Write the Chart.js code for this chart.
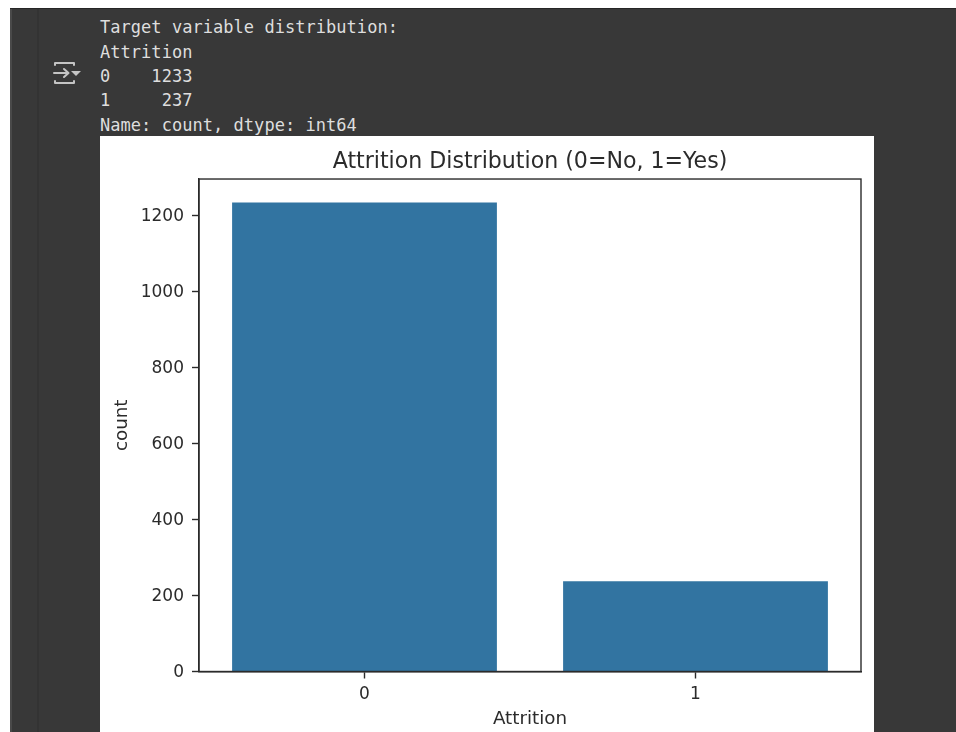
<!DOCTYPE html>
<html>
<head>
<meta charset="utf-8">
<script src="https://cdn.jsdelivr.net/npm/chart.js@4"></script>
<style>
html,body{margin:0;padding:0;background:#fff;width:956px;height:732px;overflow:hidden}
#dark{position:absolute;left:10px;top:8px;width:946px;height:724px;background:#383838;border-top:1px solid #262626;box-sizing:border-box}
#rule{position:absolute;left:37px;top:9px;width:2px;height:723px;background:#333}
#edge{position:absolute;left:10px;top:9px;width:2px;height:723px;background:#4a4a4a}
#out{position:absolute;left:100px;top:15.400px;font:17px/24.300px "DejaVu Sans Mono",monospace;letter-spacing:.04px;color:#dedede;white-space:pre;margin:0}
#icon{position:absolute;left:52px;top:60px}
#wrap{position:absolute;left:100px;top:136px;width:774px;height:596px;background:#fff}
canvas{display:block}
</style>
</head>
<body>
<div id="dark"></div><div id="edge"></div><div id="rule"></div>
<svg id="icon" width="30" height="28" viewBox="0 0 30 28" fill="none" stroke="#c4c4c4" stroke-width="2" stroke-linecap="round" stroke-linejoin="round">
<path d="M3 5V3h19v2M3 21v2h19v-2"/><path d="M2 13h14M12 9l4.500 4-4.500 4"/><path d="M19 11h10l-5 5z" fill="#c4c4c4" stroke="none"/>
</svg>
<pre id="out"></pre>
<div id="wrap"><canvas id="c" width="774" height="596"></canvas></div>
<script>
const consoleLines = ["Target variable distribution:","Attrition","0    1233","1     237","Name: count, dtype: int64"];
const categories = ["0","1"];
const counts = [1233,237];
const yTicks = [0,200,400,600,800,1000,1200];
const yMax = 1294.65;
const chartTitle = "Attrition Distribution (0=No, 1=Yes)";
const xTitle = "Attrition";
const yTitle = "count";

document.getElementById("out").textContent = consoleLines.join("\n");
const ink = "#2b2b2b";
const family = '"DejaVu Sans", sans-serif';
const frame = {
  id:"frame",
  afterDatasetsDraw(ch){
    const a = ch.chartArea, g = ch.ctx;
    g.save(); g.strokeStyle = ink; g.lineWidth = 1.4;
    g.strokeRect(a.left,a.top,a.right-a.left,a.bottom-a.top);
    g.restore();
  }
};
new Chart(document.getElementById("c"),{
  type:"bar",
  plugins:[frame],
  data:{labels:categories,datasets:[{data:counts,backgroundColor:"#3274a1",barPercentage:0.8,categoryPercentage:1}]},
  options:{
    responsive:false,animation:false,devicePixelRatio:1,
    layout:{padding:{top:0,right:13,bottom:0,left:0}},
    plugins:{
      legend:{display:false},tooltip:{enabled:false},
      title:{display:true,fullSize:false,text:chartTitle,color:ink,font:{family,size:22.100,weight:"normal"},padding:{top:12.500,bottom:4}}
    },
    scales:{
      x:{
        grid:{offset:false,drawOnChartArea:false,drawTicks:true,tickLength:7,tickColor:ink,tickWidth:1.4},
        border:{color:ink,width:1.4},
        ticks:{color:ink,font:{family,size:17},padding:6,maxRotation:0},
        title:{display:true,text:xTitle,color:ink,font:{family,size:18.300},padding:{top:4,bottom:2}},
        afterFit(s){s.height=60.500;}
      },
      y:{
        min:0,max:yMax,
        afterBuildTicks(s){s.ticks=yTicks.map(v=>({value:v}));},
        grid:{drawOnChartArea:false,drawTicks:true,tickLength:7,tickColor:ink,tickWidth:1.4},
        border:{color:ink,width:1.4},
        ticks:{color:ink,font:{family,size:17},padding:8,labelOffset:1.500,callback:v=>String(v)},
        title:{display:true,text:yTitle,color:ink,font:{family,size:18.300},padding:{top:11,bottom:0}},
        afterFit(s){s.width=99;}
      }
    }
  }
});
</script>
</body>
</html>
